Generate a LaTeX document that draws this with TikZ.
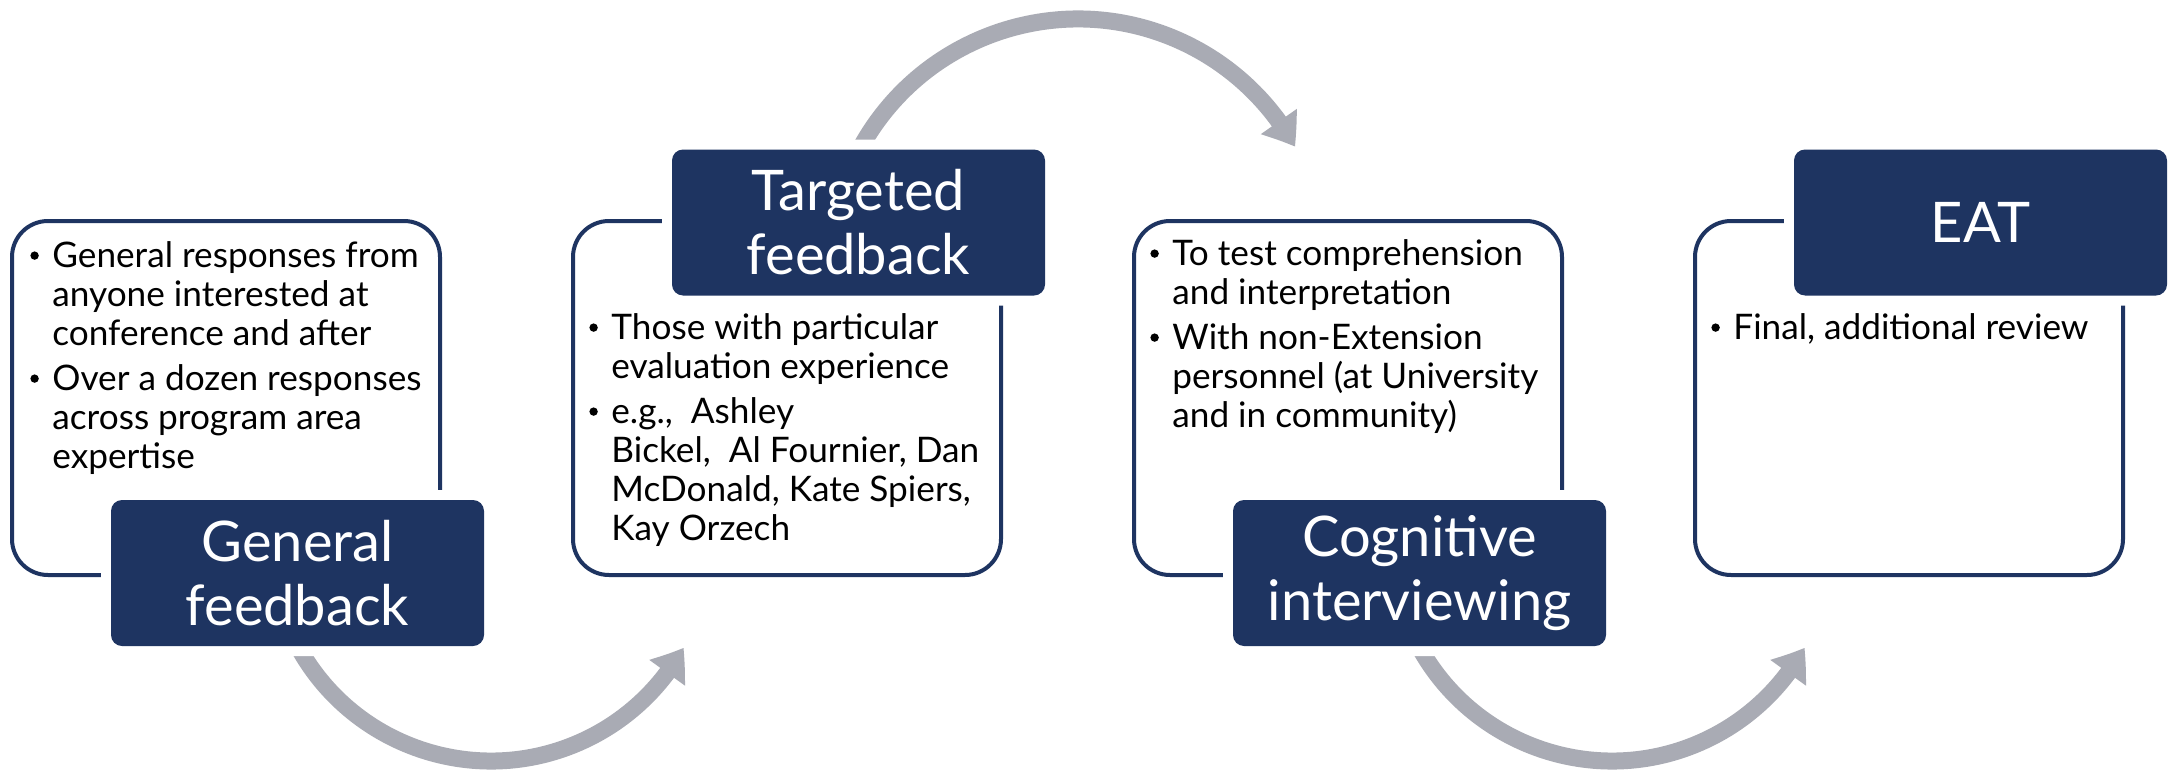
\documentclass[tikz,border=0pt]{standalone}
\usepackage{fontspec}
\setmainfont{Lato}
\usetikzlibrary{arrows.meta,bending}
\definecolor{navy}{RGB}{30,52,97}
\definecolor{arrowgray}{RGB}{169,171,180}
\newcommand{\mybullet}{\raisebox{3.6pt}{\tikz\fill[black] (0,0) circle (2.1pt);}}
\newcommand{\bitem}[1]{\hangindent=11pt\hangafter=1\noindent\makebox[11pt][l]{\mybullet}#1\par}
\newcommand{\bodyfont}{\fontsize{17.6}{19.5}\selectfont}
\begin{document}
\begin{tikzpicture}[x=0.5pt,y=0.5pt,
  boxframe/.style={draw=navy,line width=2pt,rounded corners=18pt,fill=white,
    minimum width=214pt,minimum height=177pt,inner sep=0pt},
  labelbox/.style={fill=navy,rounded corners=5.5pt,
    preaction={draw=white,line width=10pt},
    minimum width=186.5pt,minimum height=73pt,inner sep=0pt,
    text=white,font=\fontsize{28}{32}\selectfont,align=center},
  flowarrow/.style={draw=arrowgray,line width=8.5pt,
    -{Triangle[length=15pt,width=21pt,bend]}},
  bullettext/.style={anchor=base west,inner sep=0pt}
]
\fill[white] (0,0) rectangle (2174,-771);
\useasboundingbox (0,0) rectangle (2174,-771);

% arc centres
\coordinate (c1) at (491,-541);
\coordinate (c2) at (1078,-267);
\coordinate (c3) at (1612,-541);

% arrows
\draw[flowarrow] (c1) ++(205:220) arc[start angle=205,end angle=331,radius=220];
\draw[flowarrow] (c2) ++(155:248) arc[start angle=155,end angle=29,radius=248];
\draw[flowarrow] (c3) ++(205:220) arc[start angle=205,end angle=331,radius=220];

% boxes
\node[boxframe] (b1) at (226,-398) {};
\node[boxframe] (b2) at (787,-398) {};
\node[boxframe] (b3) at (1348,-398) {};
\node[boxframe] (b4) at (1909,-398) {};

% labels
\node[labelbox] (l1) at (297.5,-573) {General\\feedback};
\node[labelbox] (l2) at (858.5,-222.5) {Targeted\\feedback};
\node[labelbox] (l3) at (1419.5,-573) {Cognitive\\interviewing};
\node[labelbox] (l4) at (1980.5,-222.5) {EAT};

% bullet texts
\node[bullettext] (t1) at (30,-267) {\parbox[t]{215pt}{\bodyfont
  \bitem{General responses from\\anyone interested at\\conference and after}\vspace{3pt}
  \bitem{Over a dozen responses\\across program area\\expertise}}};
\node[bullettext] (t2) at (589,-339) {\parbox[t]{215pt}{\bodyfont
  \bitem{Those with particular\\evaluation experience}\vspace{3pt}
  \bitem{e.g.,~ Ashley\\Bickel,~ Al Fournier, Dan\\McDonald, Kate Spiers,\\Kay Orzech}}};
\node[bullettext] (t3) at (1150,-265) {\parbox[t]{215pt}{\bodyfont
  \bitem{To test comprehension\\and interpretation}\vspace{3pt}
  \bitem{With non-Extension\\personnel (at University\\and in community)}}};
\node[bullettext] (t4) at (1711,-339) {\parbox[t]{215pt}{\bodyfont
  \bitem{Final, additional review}}};
\end{tikzpicture}
\end{document}
